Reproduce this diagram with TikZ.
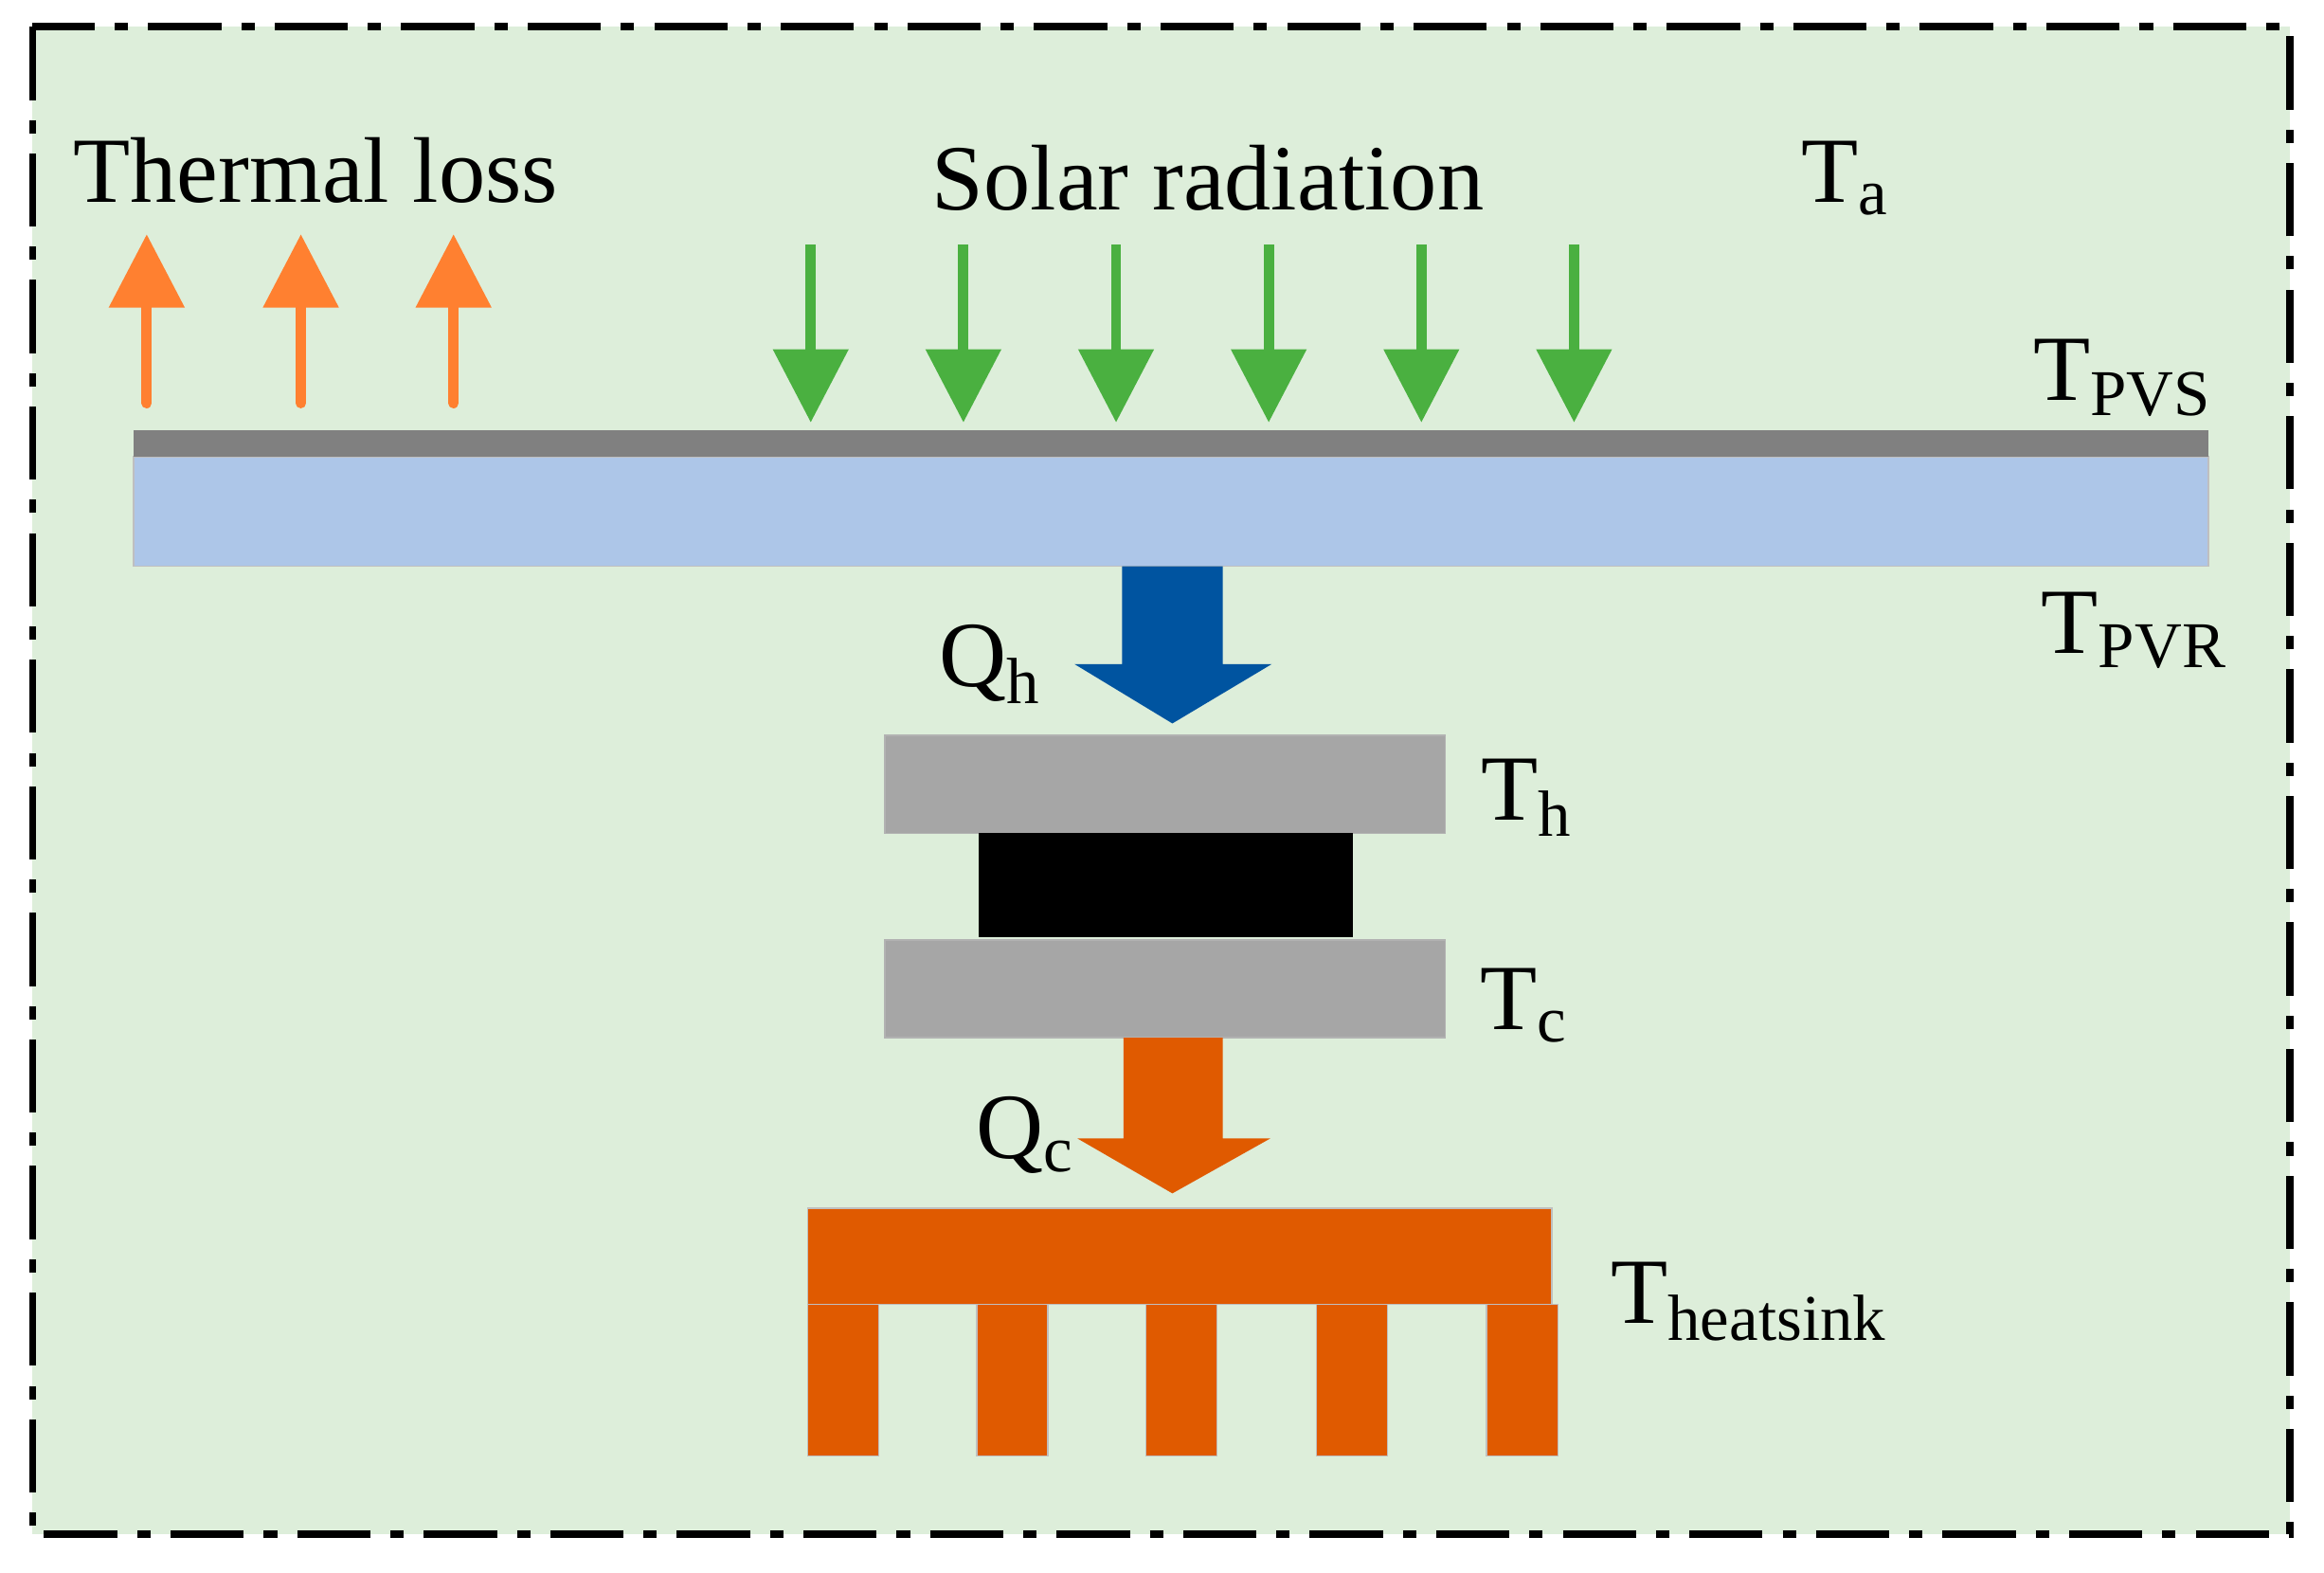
\documentclass[tikz,border=0pt]{standalone}
\usepackage{fontspec}
\setmainfont{Liberation Serif}
\usetikzlibrary{arrows.meta}
\definecolor{bggreen}{HTML}{DDEEDA}
\definecolor{slabblue}{HTML}{ADC6E8}
\definecolor{qhblue}{HTML}{0054A0}
\definecolor{sinkorange}{HTML}{E05A00}
\definecolor{lossorange}{HTML}{FF8030}
\definecolor{solargreen}{HTML}{4AB040}
\tikzset{
  lbl/.style={font=\fontsize{28}{32}\selectfont, inner sep=0pt},
  loss/.style={lossorange, line width=7pt*0.44, -{Triangle[length=22pt,width=22pt]}},
  solar/.style={solargreen, line width=7pt*0.44, -{Triangle[length=22pt,width=22pt]}},
  plate/.style={fill=gray!70!white, draw=gray!60},
  fin/.style={fill=sinkorange, draw=gray!50, line width=0.4pt}
}
\begin{document}
\begin{tikzpicture}[x=0.015645cm, y=-0.015645cm]
	\useasboundingbox (0,0) rectangle (1568,1061);
	%frame
	\draw[fill=bggreen, line width=2.2pt, dash pattern=on 22pt off 6pt on 4pt off 6pt] (22,18) rectangle (1545,1035);
	
	%panel
	\draw[fill=slabblue, draw=gray!50] (90,308) rectangle (1490,382);
	\fill[gray] (90,290) rectangle (1490,308);
	
	%thermal loss
	\foreach \x in {99,203,306}
		\draw[loss, line cap=round] (\x,272) -- (\x,158);
	%solar
	\foreach \x in {547,650,753,856,959,1062}
		\draw[solar] (\x,165) -- (\x,285);
	
	%Qh arrow
	\fill[qhblue] (757,382) -- (825,382) -- (825,448) -- (858,448) -- (791,488) -- (725,448) -- (757,448) -- cycle;
	%TEG
	\draw[plate] (597,496) rectangle (975,562);
	\fill[black] (660,562) rectangle (913,632);
	\draw[plate] (597,634) rectangle (975,700);
	%Qc arrow
	\fill[sinkorange] (758,700) -- (825,700) -- (825,768) -- (857,768) -- (791,805) -- (727,768) -- (758,768) -- cycle;
	%heatsink
	\draw[fin] (545,815) rectangle (1047,880);
	\foreach \x in {545,659,773,888,1003}
		\draw[fin] (\x,880) rectangle ++(48,102);
	
	%labels
	\node[lbl] (loss) at (213,115) {Thermal loss};
	\node[lbl] (sun) at (815,120) {Solar radiation};
	\node[lbl] (ta) at (1245,120) {T\textsubscript{a}};
	\node[lbl] (tpvs) at (1432,255) {T\textsubscript{PVS}};
	\node[lbl] (tpvr) at (1440,425) {T\textsubscript{PVR}};
	\node[lbl] (qh) at (668,448) {Q\textsubscript{h}};
	\node[lbl] (th) at (1030,538) {T\textsubscript{h}};
	\node[lbl] (tc) at (1028,678) {T\textsubscript{c}};
	\node[lbl] (qc) at (692,766) {Q\textsubscript{c}};
	\node[lbl] (tsink) at (1180,878) {T\textsubscript{heatsink}};
\end{tikzpicture}
\end{document}
